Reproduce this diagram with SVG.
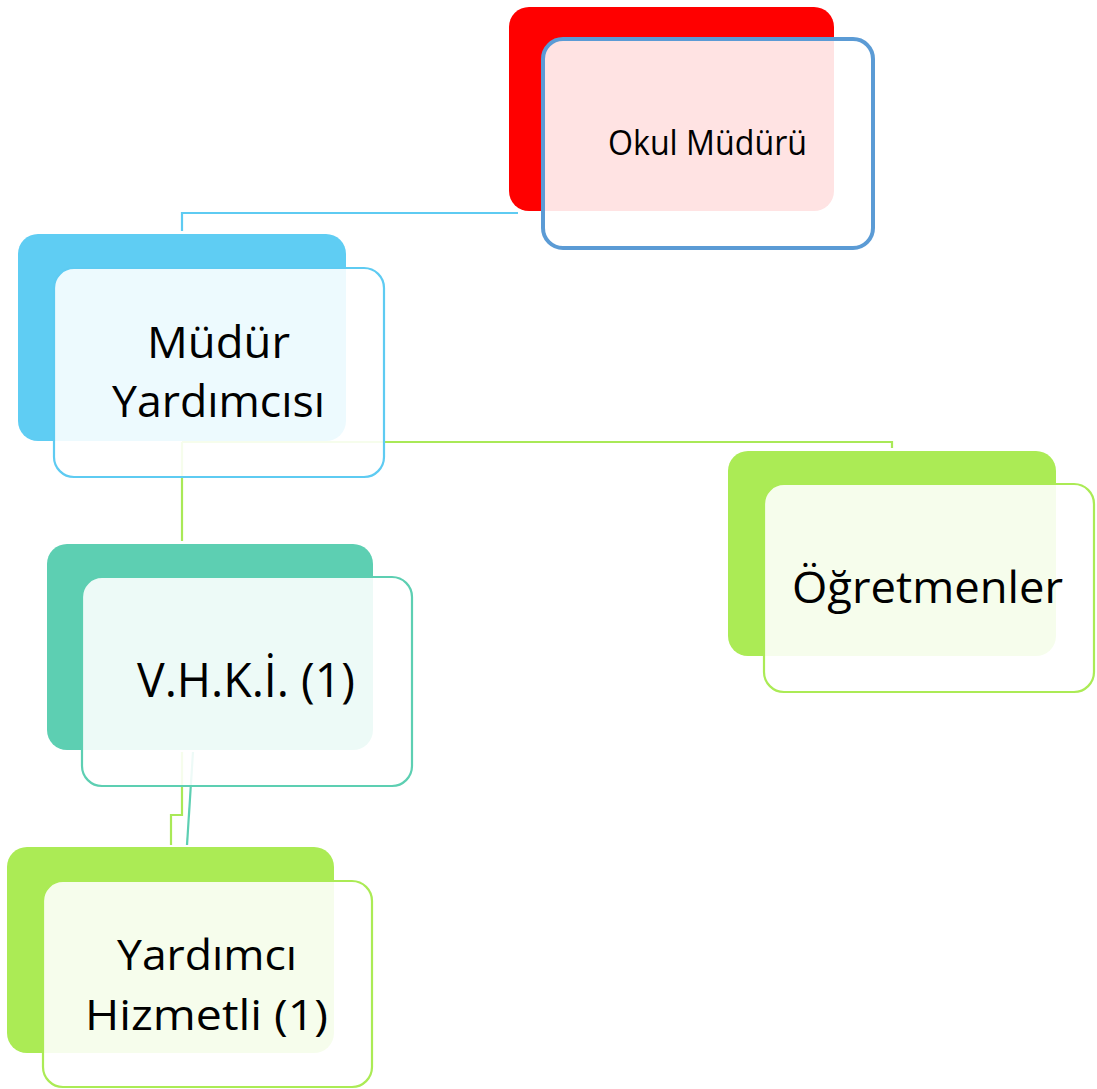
<svg xmlns="http://www.w3.org/2000/svg" width="1097" height="1089" viewBox="0 0 1097 1089">
<style>
.front{fill:#ffffff;fill-opacity:0.89}
.lbl{font-family:"Open Sans","Noto Sans","Liberation Sans",sans-serif;fill:#000000;text-anchor:middle}
.conn{fill:none;stroke-width:2.2}
</style>
<rect width="1097" height="1089" fill="#ffffff"/>
<g id="connectors">
<path class="conn" stroke="#5ecbf2" d="M 518 213 L 182 213 L 182 231"/>
<path class="conn" stroke="#a9e957" d="M 182 442 L 892 442 L 892 448"/>
<path class="conn" stroke="#a9e957" d="M 182 442 L 182 541"/>
<path class="conn" stroke="#a9e957" d="M 182 752 L 182 815 L 171 815 L 171 845"/>
<path class="conn" stroke="#5dcfb2" d="M 193 752 L 187 845"/>
</g>
<g id="okul-muduru">
<rect x="509" y="7" width="325" height="204" rx="20" fill="#ff0000"/>
<rect class="front" x="543" y="39" width="330" height="209" rx="20" stroke="#5b9bd5" stroke-width="4"/>
<text class="lbl" x="707.5" y="155" font-size="34" textLength="199" lengthAdjust="spacingAndGlyphs">Okul Müdürü</text>
</g>
<g id="mudur-yardimcisi">
<rect x="18" y="234" width="328" height="207" rx="20" fill="#5fcdf3"/>
<rect class="front" x="54" y="268" width="330" height="209" rx="20" stroke="#5ecbf2" stroke-width="2.2"/>
<text class="lbl" x="218.5" y="358" font-size="43" textLength="143" lengthAdjust="spacingAndGlyphs">Müdür</text>
<text class="lbl" x="218.5" y="417" font-size="43" textLength="213" lengthAdjust="spacingAndGlyphs">Yardımcısı</text>
</g>
<g id="vhki">
<rect x="47" y="544" width="326" height="206" rx="20" fill="#5dcfb2"/>
<rect class="front" x="82" y="577" width="330" height="209" rx="20" stroke="#5dcfb2" stroke-width="2.2"/>
<text class="lbl" x="246" y="697" font-size="47" textLength="218" lengthAdjust="spacingAndGlyphs">V.H.K.İ. (1)</text>
</g>
<g id="ogretmenler">
<rect x="728" y="451" width="328" height="205" rx="20" fill="#abeb55"/>
<rect class="front" x="764" y="484" width="330" height="208" rx="20" stroke="#abeb55" stroke-width="2.2"/>
<text class="lbl" x="927.5" y="603" font-size="43" textLength="271" lengthAdjust="spacingAndGlyphs">Öğretmenler</text>
</g>
<g id="yardimci-hizmetli">
<rect x="7" y="847" width="327" height="206" rx="20" fill="#abeb55"/>
<rect class="front" x="43" y="881" width="329" height="206" rx="20" stroke="#abeb55" stroke-width="2.2"/>
<text class="lbl" x="207" y="970" font-size="42" textLength="180" lengthAdjust="spacingAndGlyphs">Yardımcı</text>
<text class="lbl" x="206.5" y="1030" font-size="42" textLength="243" lengthAdjust="spacingAndGlyphs">Hizmetli (1)</text>
</g>
</svg>
